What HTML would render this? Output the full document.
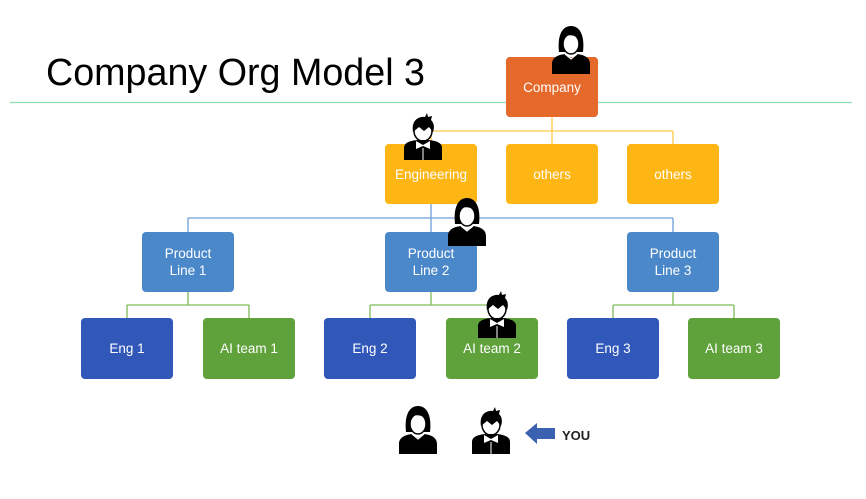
<!DOCTYPE html>
<html><head><meta charset="utf-8"><style>
html,body{margin:0;padding:0;background:#fff;}
svg{display:block}
text{font-family:"Liberation Sans",sans-serif;}
</style></head><body>
<svg width="866" height="499" viewBox="0 0 866 499" xmlns="http://www.w3.org/2000/svg">
<defs>
<g id="woman">
  <path d="M-12,-8 C-14,-26 -8,-34 0,-34 C8,-34 14,-26 12,-8 Z" fill="#000"/>
  <ellipse cx="0" cy="-16" rx="8" ry="10" fill="#fff" stroke="#000" stroke-width="1.5"/>
  <path d="M-9,-22 C-4,-26 4,-26 9,-20 L9,-28 C4,-32 -4,-32 -9,-28 Z" fill="#000"/>
  <path d="M-19,14 L-19,4 C-19,-2 -14,-5 -6,-6 L0,-2 L6,-6 C14,-5 19,-2 19,4 L19,14 Z" fill="#000"/>
  <path d="M-6,-6 L0,-1 L6,-6" fill="none" stroke="#fff" stroke-width="1.2"/>
</g>
<g id="man">
  <ellipse cx="0" cy="-15" rx="9" ry="10" fill="#fff" stroke="#000" stroke-width="1.5"/>
  <path d="M-10,-14 C-12,-26 -4,-30 2,-29 L4,-33 L5,-29 L9,-30 L8,-26 C12,-22 11,-17 10,-14 L6,-19 L1,-15 L-4,-19 Z" fill="#000"/>
  <path d="M-19,14 L-19,2 C-19,-3 -14,-5 -6,-6 L6,-6 C14,-5 19,-3 19,2 L19,14 Z" fill="#000"/>
  <path d="M-7,-5 L0,-1 L7,-5 L7,3 L0,0 L-7,3 Z" fill="#fff"/>
  <line x1="0" y1="2" x2="0" y2="14" stroke="#fff" stroke-width="1"/>
</g>
</defs>

<text x="46" y="85" font-size="38" textLength="379" lengthAdjust="spacingAndGlyphs" fill="#000">Company Org Model 3</text>
<line x1="10" y1="102.5" x2="852" y2="102.5" stroke="#8FDDB2" stroke-width="1.2"/>

<!-- connectors -->
<g fill="none" stroke-width="1.3">
  <path d="M552,117 V144 M431,131 H673 M431,131 V144 M673,131 V144" stroke="#FFC94A"/>
  <path d="M431,204 V232 M188,218 H673 M188,218 V232 M673,218 V232" stroke="#6E9FD8"/>
  <path d="M188,292 V305 M127,305 H249 M127,305 V318 M249,305 V318" stroke="#7DBA5B"/>
  <path d="M431,292 V305 M370,305 H492 M370,305 V318 M492,305 V318" stroke="#7DBA5B"/>
  <path d="M673,292 V305 M613,305 H734 M613,305 V318 M734,305 V318" stroke="#7DBA5B"/>
</g>

<g font-size="13.5" fill="#fff" text-anchor="middle">
  <rect x="506" y="57" width="92" height="60" rx="4" fill="#E4692A"/>
  <text x="552" y="92">Company</text>

  <rect x="385" y="144" width="92" height="60" rx="4" fill="#FDB614"/>
  <text x="431" y="179">Engineering</text>
  <rect x="506" y="144" width="92" height="60" rx="4" fill="#FDB614"/>
  <text x="552" y="179">others</text>
  <rect x="627" y="144" width="92" height="60" rx="4" fill="#FDB614"/>
  <text x="673" y="179">others</text>

  <rect x="142" y="232" width="92" height="60" rx="4" fill="#4A88C9"/>
  <text x="188" y="258">Product</text><text x="188" y="275">Line 1</text>
  <rect x="385" y="232" width="92" height="60" rx="4" fill="#4A88C9"/>
  <text x="431" y="258">Product</text><text x="431" y="275">Line 2</text>
  <rect x="627" y="232" width="92" height="60" rx="4" fill="#4A88C9"/>
  <text x="673" y="258">Product</text><text x="673" y="275">Line 3</text>

  <rect x="81" y="318" width="92" height="61" rx="4" fill="#3158B8"/>
  <text x="127" y="353">Eng 1</text>
  <rect x="203" y="318" width="92" height="61" rx="4" fill="#5FA13B"/>
  <text x="249" y="353">AI team 1</text>
  <rect x="324" y="318" width="92" height="61" rx="4" fill="#3158B8"/>
  <text x="370" y="353">Eng 2</text>
  <rect x="446" y="318" width="92" height="61" rx="4" fill="#5FA13B"/>
  <text x="492" y="353">AI team 2</text>
  <rect x="567" y="318" width="92" height="61" rx="4" fill="#3158B8"/>
  <text x="613" y="353">Eng 3</text>
  <rect x="688" y="318" width="92" height="61" rx="4" fill="#5FA13B"/>
  <text x="734" y="353">AI team 3</text>
</g>

<!-- people -->
<use href="#woman" transform="translate(571,60)"/>
<use href="#man" transform="translate(423,146)"/>
<use href="#woman" transform="translate(467,232)"/>
<use href="#man" transform="translate(497,324)"/>
<use href="#woman" transform="translate(418,440)"/>
<use href="#man" transform="translate(491,440)"/>

<path d="M525,433 L537,423 L537,428 L555,428 L555,439 L537,439 L537,444 Z" fill="#3A62B0"/>
<text x="562" y="440" font-size="13" font-weight="bold" fill="#222">YOU</text>
</svg>
</body></html>
